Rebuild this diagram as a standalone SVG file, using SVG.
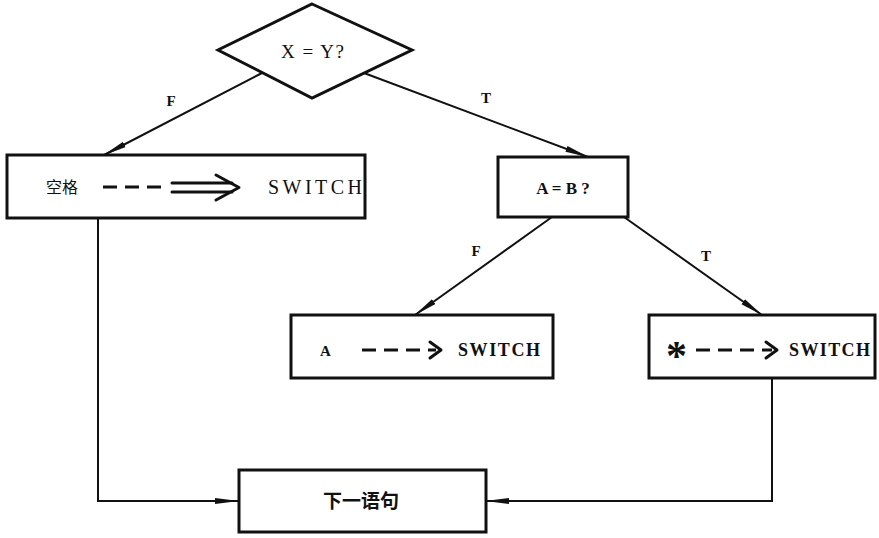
<svg xmlns="http://www.w3.org/2000/svg" width="879" height="538" viewBox="0 0 879 538">
<defs>
<style>
.box{fill:#fff;stroke:#111;stroke-width:3}
.conn{fill:none;stroke:#111;stroke-width:2}
.t{font-family:"Liberation Serif","Noto Sans CJK SC",serif;fill:#111}
.b{font-weight:bold}
.lbl{font-family:"Liberation Serif",serif;font-size:15px;font-weight:bold;fill:#111}
.dash{fill:none;stroke:#111;stroke-width:3;stroke-dasharray:14 8}
.ah{fill:none;stroke:#111;stroke-width:3;stroke-linecap:round;stroke-linejoin:round}
</style>
<marker id="arr" viewBox="0 0 24 8" refX="23" refY="4" markerWidth="24" markerHeight="8" markerUnits="userSpaceOnUse" orient="auto">
<path d="M0,1 L24,4 L0,7 Z" fill="#111"/>
</marker>
</defs>
<g id="connectors">
<line class="conn" x1="262" y1="73" x2="104" y2="155" marker-end="url(#arr)"/>
<line class="conn" x1="364" y1="73" x2="588" y2="157" marker-end="url(#arr)"/>
<line class="conn" x1="552" y1="217" x2="415" y2="315" marker-end="url(#arr)"/>
<line class="conn" x1="624" y1="217" x2="762" y2="315" marker-end="url(#arr)"/>
<polyline class="conn" points="98,218 98,501 238,501" marker-end="url(#arr)"/>
<polyline class="conn" points="772,378 772,501 486,501" marker-end="url(#arr)"/>
<text class="lbl" x="171" y="106" text-anchor="middle">F</text>
<text class="lbl" x="486" y="103" text-anchor="middle">T</text>
<text class="lbl" x="476" y="256" text-anchor="middle">F</text>
<text class="lbl" x="706" y="261" text-anchor="middle">T</text>
</g>
<g id="n-xy">
<polygon class="box" points="312,4 412,50 312,98 218,50"/>
<text class="t" x="281" y="58" font-size="19" textLength="63" lengthAdjust="spacing">X = Y?</text>
</g>
<g id="n-space">
<rect class="box" x="7" y="155" width="358" height="63"/>
<text class="t" x="46" y="193" font-size="16">空格</text>
<line class="dash" x1="103" y1="187" x2="161" y2="187"/>
<line class="ah" x1="172" y1="183" x2="232" y2="183"/>
<line class="ah" x1="172" y1="192" x2="232" y2="192"/>
<polyline class="ah" points="216,175 239,187.5 216,200"/>
<text class="t" x="268" y="194" font-size="20" textLength="94" lengthAdjust="spacing">SWITCH</text>
</g>
<g id="n-ab">
<rect class="box" x="498" y="157" width="130" height="60"/>
<text class="t b" x="563" y="194" font-size="17" text-anchor="middle">A = B ?</text>
</g>
<g id="n-a">
<rect class="box" x="291" y="315" width="262" height="63"/>
<text class="t b" x="320" y="356" font-size="15">A</text>
<line class="dash" x1="362" y1="350" x2="436" y2="350"/>
<polyline class="ah" points="430,342 441,350 430,358"/>
<text class="t b" x="458" y="356" font-size="18" textLength="82" lengthAdjust="spacing">SWITCH</text>
</g>
<g id="n-star">
<rect class="box" x="649" y="315" width="226" height="63"/>
<text class="t b" x="666" y="370" font-size="42">*</text>
<line class="dash" x1="696" y1="350" x2="772" y2="350"/>
<polyline class="ah" points="766,342 777,350 766,358"/>
<text class="t b" x="789" y="356" font-size="18" textLength="81" lengthAdjust="spacing">SWITCH</text>
</g>
<g id="n-next">
<rect class="box" x="239" y="470" width="247" height="62"/>
<text class="t b" x="361" y="508" font-size="19" text-anchor="middle">下一语句</text>
</g>
</svg>
